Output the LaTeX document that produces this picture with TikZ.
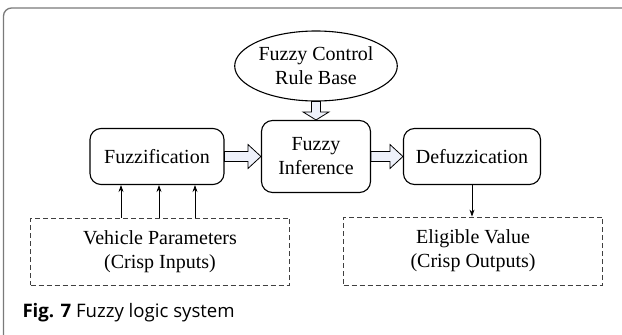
\documentclass[tikz,border=0pt]{standalone}
\usepackage{fontspec}
\setmainfont{Liberation Serif}
\newfontfamily\capfont{Open Sans}
\usepackage{xcolor}
\usepackage{tikz}
\usetikzlibrary{calc,shapes.geometric,arrows.meta}
\definecolor{framegray}{HTML}{7A7A7A}
\definecolor{fatfill}{HTML}{EEF1FA}
\tikzset{
  blk/.style={draw, line width=1.1pt, rounded corners=11pt, align=center, inner sep=0pt},
  dbox/.style={draw=black!75, dashed, dash pattern=on 5pt off 3pt, line width=0.8pt, align=center, inner sep=0pt},
  base/.style={ellipse, draw, line width=1.1pt, align=center, inner sep=0pt},
  fat/.style={draw, fill=fatfill, line width=0.8pt, line join=miter},
  sig/.style={draw, line width=0.8pt, -{Stealth[length=7pt,width=5pt]}},
  every node/.style={font=\fontsize{20}{24}\selectfont}
}

\begin{document}
\begin{tikzpicture}[x=1pt,y=-1pt]
  \useasboundingbox (0,0) rectangle (622,335);
  \fill[white] (0,0) rectangle (622,335);
  \clip (0,0) rectangle (622,335);
  \draw[framegray, line width=1.3pt, rounded corners=8pt] (3.5,400) -- (3.5,8) -- (700,8);

  % blocks
  \node[base, minimum width=146pt, minimum height=70pt] (rule) at (316,66) {Fuzzy Control\\Rule Base};
  \node[blk, minimum width=134pt, minimum height=56pt] (fuzz) at (157,156.5) {Fuzzification};
  \node[blk, minimum width=109pt, minimum height=72pt] (inf) at (316,156.5) {Fuzzy\\Inference};
  \node[blk, minimum width=137pt, minimum height=56pt] (defuzz) at (472,156.5) {Defuzzication};
  \node[dbox, minimum width=259pt, minimum height=67pt] (inputs) at (160,251.5) {Vehicle Parameters\\(Crisp Inputs)};
  \node[dbox, minimum width=259pt, minimum height=68pt] (outputs) at (473,251) {Eligible Value\\(Crisp Outputs)};

  % block arrows
  \draw[fat] ($(fuzz.east)+(0,-5)$) -- ($(inf.west)+(-13,-5)$) -- ($(inf.west)+(-13,-12)$)
    -- (inf.west) -- ($(inf.west)+(-13,12)$) -- ($(inf.west)+(-13,5)$) -- ($(fuzz.east)+(0,5)$) -- cycle;
  \draw[fat] ($(inf.east)+(0,-5)$) -- ($(defuzz.west)+(-13,-5)$) -- ($(defuzz.west)+(-13,-12)$)
    -- (defuzz.west) -- ($(defuzz.west)+(-13,12)$) -- ($(defuzz.west)+(-13,5)$) -- ($(inf.east)+(0,5)$) -- cycle;
  \draw[fat] ($(rule.south)+(-4.5,0)$) -- ($(inf.north)+(-4.5,-8)$) -- ($(inf.north)+(-13,-8)$)
    -- (inf.north) -- ($(inf.north)+(13,-8)$) -- ($(inf.north)+(4.5,-8)$) -- ($(rule.south)+(4.5,0)$) -- cycle;

  % crisp signals
  \foreach \dx in {-36,2,38}
    \draw[sig] ($(fuzz.south |- inputs.north)+(\dx,0)$) -- ($(fuzz.south)+(\dx,0)$);
  \draw[sig] (defuzz.south) -- (defuzz.south |- outputs.north);

  \node[anchor=base west, font=\capfont\fontsize{18.6}{20}\selectfont] (cap) at (19,317)
    {\textbf{Fig. 7} Fuzzy logic system};
\end{tikzpicture}
\end{document}
